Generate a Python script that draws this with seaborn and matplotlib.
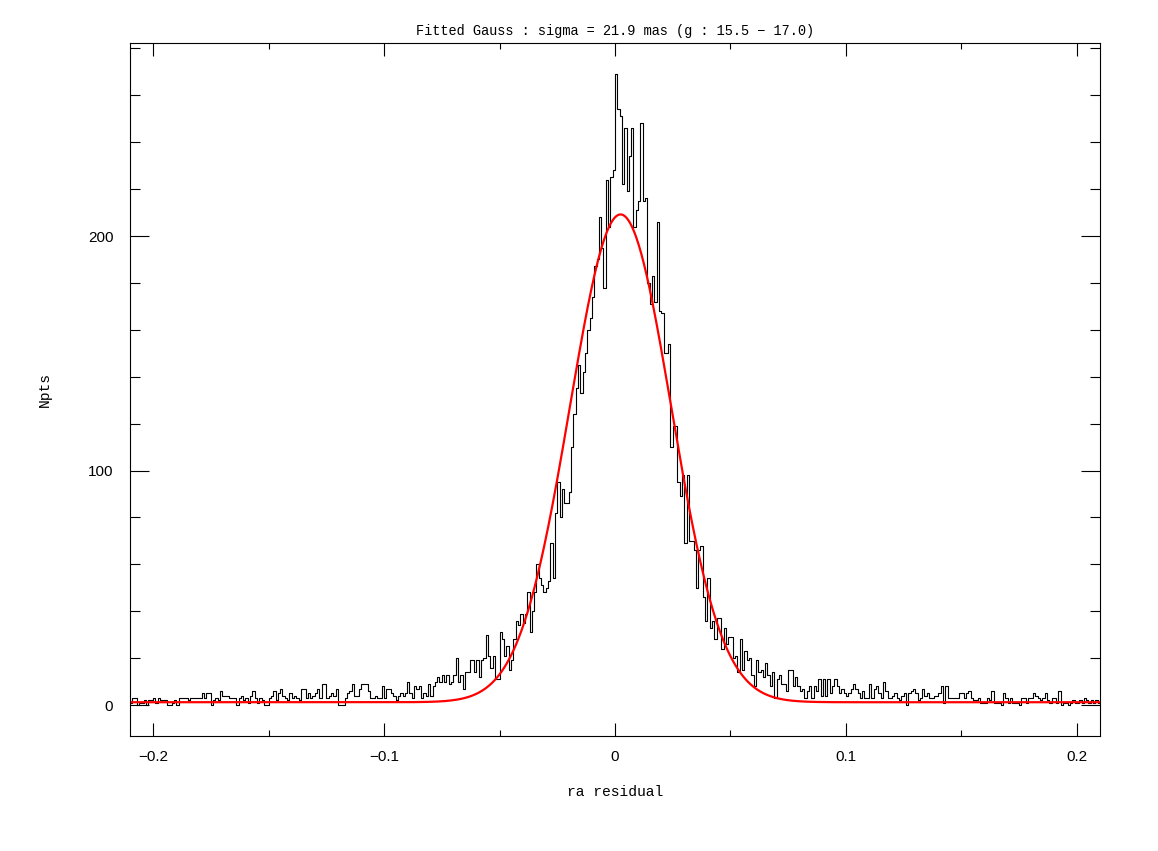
import numpy as np
import pandas as pd
import matplotlib
matplotlib.use('Agg')
import matplotlib.pyplot as plt
from matplotlib.ticker import MultipleLocator, FuncFormatter
import seaborn as sns

# histogram of ra residuals, bin width 0.001, starting at -0.21
bin_lo = -0.21
bin_width = 0.001

# counts per bin (left to right)
left_tail = [1, 3, 3, 0, 1, 1, 2, 0, 2, 2, 3, 1, 3, 2,
             2, 2, 0, 0, 1, 2, 0, 3,
             3, 3, 3, 2, 3, 3, 3,
             3, 3, 5, 3, 5, 5, 0,
             2, 3, 2, 6, 4, 4, 4,
             3, 3, 3, 0, 3, 4, 2,
             3, 1, 4, 6, 3, 1, 3,
             2, 0, 0, 3, 4, 6,
             2, 5, 7, 4, 3, 2,
             5, 3, 4, 3, 2, 7, 7,
             3, 5, 3, 4, 5, 7,
             3, 9, 9, 3, 4, 5,
             4, 7, 0, 0, 0, 3,
             5, 6, 9, 4, 4, 7, 9, 9, 9,
             6, 3, 3, 4, 3, 3, 8]
left_flank = [3, 7, 7, 5, 4, 2, 4, 5, 4, 5, 10, 5, 3, 8, 7, 8, 3, 5, 4, 9,
              4, 8, 10, 12, 10, 13, 10, 13, 9, 10, 13, 20, 10, 13, 7, 14, 14, 19, 19, 14,
              19, 12, 19, 20, 30, 21, 16, 21, 11, 11, 31, 28, 21, 25, 15, 19, 28, 36, 34, 39,
              35, 39, 48, 31, 40, 48, 60, 54, 51, 48, 50, 53, 69, 54]
core = [82, 95, 80, 92, 86, 86, 91, 110, 124, 135, 145, 133, 142, 150, 160, 165,
        174, 187, 190, 208, 195, 178, 224, 204, 225, 228,
        269, 254, 251, 222, 246, 219, 234, 246, 204, 211, 215, 248, 215, 216,
        180, 171, 183, 172, 206, 168, 167, 150, 150, 154, 110, 119, 119, 95, 89,
        98, 69, 98, 70, 70, 66]
right_flank = [50, 66, 68, 46, 36, 54, 33, 36, 28, 37, 37, 24, 33, 26, 29,
               29, 20, 21, 14, 28, 15, 23, 19, 20, 13, 8, 19, 14, 15, 12]
right_shoulder = [18, 13, 8, 14, 3,
                  11, 13, 9, 9, 6, 15, 15, 8, 12, 8, 6, 7, 3, 6, 8, 3, 8, 6, 11, 4,
                  11, 4, 11, 5, 8, 11, 8, 5, 7, 5, 4, 5, 7, 9, 7, 5, 3, 6, 3, 3,
                  9, 3, 7, 8, 5, 3, 10, 6, 3, 3, 4, 5, 3, 2]
right_tail = [4, 5, 0, 5, 6, 7, 5, 2, 3, 7, 4, 5, 3, 3, 4, 4, 5, 8, 1, 8,
              3, 3, 3, 3, 3, 5, 5, 3, 5, 6, 3, 2, 2, 3, 1, 1, 1, 3, 2, 6,
              1, 1, 1, 0, 5, 3, 1, 3, 1, 1, 1, 0, 3, 3, 1, 3, 3, 5, 4, 3,
              2, 3, 5, 2, 1, 3, 3, 1, 6, 0, 1, 1, 0, 1, 2, 1, 1, 2, 1, 3,
              2, 1, 2, 1, 2, 1]

# fitted gaussian parameters
fit_amp = 208.0
fit_mu = 0.0024
fit_sigma = 0.0219
fit_bg = 1.2

counts = np.array(left_tail + left_flank + core + right_flank + right_shoulder + right_tail, dtype=float)
nbins = len(counts)
centers = bin_lo + bin_width * (np.arange(nbins) + 0.5)
hist_df = pd.DataFrame({'resid': centers, 'n': counts})

xs = np.linspace(bin_lo, bin_lo + nbins * bin_width, 1200)
ys = fit_bg + fit_amp * np.exp(-0.5 * ((xs - fit_mu) / fit_sigma) ** 2)

sns.set_style('ticks')
plt.rcParams['font.family'] = ['Liberation Sans', 'DejaVu Sans']
plt.rcParams['axes.linewidth'] = 0.8
plt.rcParams['text.color'] = 'black'
plt.rcParams['axes.labelcolor'] = 'black'
plt.rcParams['xtick.color'] = 'black'
plt.rcParams['ytick.color'] = 'black'

fig = plt.figure(figsize=(11.58, 8.51), dpi=100)
ax = fig.add_axes([130 / 1158, 1 - 736 / 851, 970 / 1158, 693 / 851])

sns.histplot(data=hist_df, x='resid', weights='n', bins=nbins,
             binrange=(bin_lo, bin_lo + nbins * bin_width), element='step', fill=False,
             color='black', linewidth=0.8, ax=ax)
sns.lineplot(x=xs, y=ys, color='red', linewidth=1.6, ax=ax)

ax.set_xlim(-0.21, 0.21)
ax.set_ylim(-13.2, 282.3)

ax.xaxis.set_major_locator(MultipleLocator(0.1))
ax.xaxis.set_minor_locator(MultipleLocator(0.05))
ax.yaxis.set_major_locator(MultipleLocator(100))
ax.yaxis.set_minor_locator(MultipleLocator(20))
ax.xaxis.set_major_formatter(FuncFormatter(lambda v, p: ('%g' % round(v, 3)).replace('-', '\u2212')))
ax.yaxis.set_major_formatter(FuncFormatter(lambda v, p: '%g' % v))

ax.tick_params(which='both', direction='in', top=True, right=True, color='black', width=0.8)
ax.tick_params(axis='x', which='major', length=9.4, pad=10, labelsize=11, labelcolor='black')
ax.tick_params(axis='x', which='minor', length=4.3)
ax.tick_params(axis='y', which='major', length=13.7, pad=12, labelsize=11, labelcolor='black')
ax.tick_params(axis='y', which='minor', length=7.2)

mono = ['Liberation Mono', 'DejaVu Sans Mono']
ax.set_xlabel('ra residual', family=mono, fontsize=10.5, labelpad=15, color='black')
ax.set_ylabel('Npts', family=mono, fontsize=10.5, labelpad=26, color='black')
ax.set_title('Fitted Gauss : sigma = 21.9 mas (g : 15.5 \u2212 17.0)', family=mono,
             fontsize=9.8, pad=6, color='black')

for s in ax.spines.values():
    s.set_visible(True)
    s.set_color('black')

fig.savefig('out.png', dpi=100, facecolor='white')
